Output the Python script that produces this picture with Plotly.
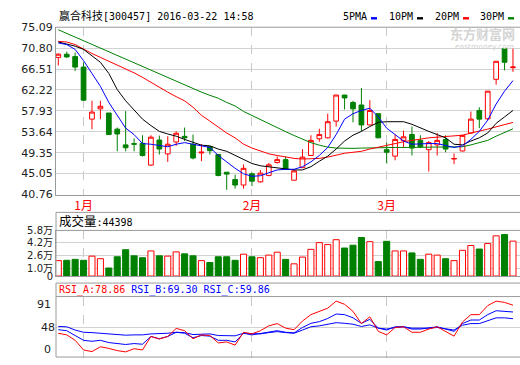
import plotly.graph_objects as go

# ---------------- data ----------------
dates = ["2015-12-29", "2015-12-30", "2015-12-31",
         "2016-01-04", "2016-01-05", "2016-01-06", "2016-01-07", "2016-01-08",
         "2016-01-11", "2016-01-12", "2016-01-13", "2016-01-14", "2016-01-15",
         "2016-01-18", "2016-01-19", "2016-01-20", "2016-01-21", "2016-01-22",
         "2016-01-25", "2016-01-26", "2016-01-27", "2016-01-28", "2016-01-29",
         "2016-02-01", "2016-02-02", "2016-02-03", "2016-02-04", "2016-02-05",
         "2016-02-15", "2016-02-16", "2016-02-17", "2016-02-18", "2016-02-19",
         "2016-02-22", "2016-02-23", "2016-02-24", "2016-02-25", "2016-02-26",
         "2016-02-29",
         "2016-03-01", "2016-03-02", "2016-03-03", "2016-03-04", "2016-03-07",
         "2016-03-08", "2016-03-09", "2016-03-10", "2016-03-11", "2016-03-14",
         "2016-03-15", "2016-03-16", "2016-03-17", "2016-03-18", "2016-03-21",
         "2016-03-22"]

opens = [68.89, 69.55, 69.06, 66.91, 56.23, 58.34, 57.48, 54.18, 50.95, 51.20,
         51.28, 46.80, 51.94, 49.10, 51.54, 52.70, 51.08, 49.30, 50.60, 48.97,
         45.34, 43.83, 42.71, 45.01, 43.37, 44.68, 47.32, 47.92, 43.70, 46.27,
         48.77, 52.20, 52.40, 55.83, 61.17, 59.65, 59.13, 55.04, 57.35, 49.96,
         48.64, 51.87, 53.06, 51.87, 49.96, 50.95, 52.07, 48.05, 49.70, 53.39,
         58.01, 56.30, 64.40, 70.74, 66.80]
highs = [69.75, 70.08, 69.88, 67.90, 59.99, 59.99, 57.50, 54.51, 57.88, 52.27,
         52.93, 52.93, 52.86, 52.73, 53.72, 54.51, 53.06, 51.10, 50.70, 49.00,
         45.34, 44.82, 46.93, 45.27, 45.80, 47.26, 48.58, 48.58, 45.94, 50.09,
         52.93, 54.25, 57.35, 61.20, 61.20, 59.99, 62.63, 60.12, 57.40, 51.41,
         53.06, 53.85, 54.71, 52.93, 51.74, 53.39, 52.93, 49.20, 52.93, 57.80,
         58.67, 62.00, 68.10, 70.80, 70.74]
lows = [67.24, 68.76, 66.12, 60.00, 54.18, 56.23, 53.00, 49.63, 49.63, 49.63,
        48.57, 46.60, 48.97, 47.46, 50.75, 51.74, 47.98, 47.60, 48.97, 44.49,
        41.72, 41.98, 41.98, 42.51, 43.17, 44.49, 47.13, 45.80, 43.70, 46.20,
        48.70, 51.61, 52.27, 54.71, 58.21, 55.57, 53.72, 55.00, 52.30, 47.13,
        47.79, 50.42, 48.77, 50.30, 45.48, 48.77, 49.43, 47.00, 49.60, 53.19,
        54.38, 56.00, 63.29, 66.24, 65.93]
closes = [69.55, 69.00, 66.91, 60.12, 57.68, 58.87, 53.06, 53.19, 50.36, 51.10,
          48.77, 52.53, 50.09, 51.08, 53.33, 52.40, 48.25, 49.45, 49.76, 44.68,
          44.95, 42.71, 46.14, 43.50, 45.15, 46.86, 47.92, 45.94, 45.61, 48.44,
          51.87, 53.06, 55.70, 61.17, 60.58, 58.34, 55.04, 58.01, 52.40, 49.43,
          52.07, 52.60, 50.29, 50.55, 51.41, 51.87, 50.09, 48.15, 52.90, 56.23,
          56.23, 61.97, 68.10, 67.90, 66.92]

ma5 = [71.86, 71.53, 70.54, 68.23, 65.60, 62.96, 59.66, 57.02, 54.38, 53.06,
       51.22, 51.08, 50.75, 50.56, 51.08, 51.41, 51.08, 50.75, 50.42, 48.78,
       47.46, 46.14, 45.02, 44.49, 44.62, 45.15, 45.81, 45.94, 45.94, 46.47,
       47.46, 48.78, 50.42, 53.06, 56.23, 57.35, 58.01, 58.47, 56.69, 54.38,
       53.06, 51.74, 51.08, 51.22, 51.22, 51.22, 50.75, 50.42, 50.75, 52.07,
       53.72, 56.03, 59.33, 61.97, 64.14]
ma10 = [72.06, 71.66, 71.20, 70.54, 69.22, 67.90, 65.60, 62.30, 59.99, 58.01,
        56.23, 54.91, 53.72, 53.19, 52.73, 52.07, 51.41, 50.89, 50.75, 50.09,
        49.63, 48.78, 47.92, 47.13, 46.66, 46.47, 46.27, 46.14, 45.81, 45.81,
        46.47, 47.59, 48.64, 50.09, 51.74, 52.93, 53.72, 54.71, 55.57, 55.70,
        55.70, 55.70, 55.17, 54.38, 53.72, 53.06, 52.40, 51.08, 50.95, 51.74,
        52.40, 53.39, 55.37, 56.69, 58.01]
ma20 = [72.18, 72.06, 71.53, 70.54, 69.69, 68.90, 68.10, 67.31, 66.58, 65.73,
        64.80, 63.75, 62.76, 61.77, 60.84, 59.99, 58.67, 57.02, 55.83, 54.57,
        53.38, 52.39, 51.09, 50.30, 49.63, 49.11, 48.77, 48.44, 48.18, 48.04,
        48.12, 48.18, 48.44, 48.83, 49.23, 49.43, 49.63, 50.10, 50.42, 50.75,
        51.21, 51.60, 51.88, 52.08, 52.39, 52.53, 52.67, 52.67, 52.93, 53.38,
        53.72, 54.18, 54.65, 55.10, 55.56]
ma30 = [74.57, 73.81, 73.06, 72.29, 71.57, 70.81, 70.05, 69.29, 68.53, 67.78,
        67.01, 66.25, 65.53, 64.80, 64.01, 63.29, 62.49, 61.77, 61.11, 60.52,
        59.66, 58.93, 57.81, 56.95, 56.16, 55.37, 54.45, 53.66, 52.87, 52.07,
        51.41, 50.89, 50.49, 50.29, 50.23, 50.23, 50.29, 50.36, 50.36, 50.42,
        50.42, 50.42, 50.42, 50.42, 50.42, 50.49, 50.49, 50.49, 50.56, 50.95,
        51.35, 51.87, 52.73, 53.52, 54.25]

volumes = [19600, 20000, 21200, 20000, 25300, 22000, 10200, 24500, 33500, 25700,
           23300, 31900, 25700, 25300, 30700, 28200, 25700, 19600, 17200, 24500,
           24500, 20000, 27800, 24500, 23300, 26600, 30300, 21200, 15500, 24100,
           33900, 42500, 40000, 46200, 35600, 39200, 49000, 43700, 18400, 44100,
           31900, 31900, 29400, 21200, 27800, 26600, 22000, 19600, 32700, 38800,
           34300, 41300, 51100, 52700, 44398]

rsi_a = [39.4, 37.1, 29.5, 15.9, 13.6, 20.4, 18.1, 15.0, 13.2, 17.7,
         15.9, 34.9, 31.3, 34.9, 46.2, 43.0, 31.7, 37.1, 36.2, 25.8,
         27.2, 22.7, 40.8, 38.5, 43.0, 49.8, 53.0, 46.6, 44.4, 56.6,
         65.6, 70.2, 74.7, 84.6, 80.1, 70.2, 53.0, 62.5, 42.1, 37.1,
         47.5, 48.5, 40.8, 40.8, 45.3, 48.5, 42.1, 35.3, 55.2, 65.6,
         65.6, 78.3, 84.6, 82.8, 78.86]
rsi_b = [44.4, 43.0, 36.2, 29.5, 28.1, 29.5, 26.3, 24.9, 23.6, 24.9,
         24.0, 34.9, 31.7, 34.9, 40.8, 39.4, 33.1, 36.2, 35.3, 29.5,
         29.5, 27.2, 39.4, 37.1, 39.4, 41.7, 43.0, 40.8, 39.9, 47.5,
         53.4, 55.7, 60.2, 66.5, 65.6, 61.1, 53.4, 58.9, 46.6, 43.9,
         48.5, 48.5, 45.3, 45.3, 46.6, 48.5, 45.3, 42.1, 53.0, 58.0,
         58.0, 65.6, 71.1, 70.2, 69.30]
rsi_c = [48.9, 48.5, 43.9, 40.8, 40.3, 39.4, 38.5, 37.1, 36.7, 37.1,
         37.1, 38.5, 38.5, 39.4, 40.8, 40.3, 37.6, 38.5, 38.5, 36.2,
         36.2, 35.8, 39.4, 38.5, 38.5, 40.3, 41.7, 40.3, 39.4, 43.9,
         48.5, 49.8, 52.1, 54.3, 53.4, 52.1, 48.9, 51.2, 46.6, 45.3,
         47.5, 48.5, 46.6, 46.2, 46.6, 47.5, 46.2, 43.9, 50.7, 53.0,
         53.0, 56.6, 61.1, 61.1, 59.86]

price_ticks = [40.76, 45.05, 49.35, 53.64, 57.93, 62.22, 66.51, 70.80, 75.09]
vol_ticks = [0, 10000, 26000, 42000, 58000]
vol_tick_labels = ["0", "1.0万", "2.6万", "4.2万", "5.8万"]
rsi_ticks = [48]

title_name = "赢合科技"
title_rest = "[300457] 2016-03-22 14:58"

# ---------------- layout helpers ----------------
W, H = 520, 365
def px(x):
    return x / W
def py(y):
    return 1 - y / H

RED = "#ff0000"
GREEN = "#008000"
BLUE = "#0000ff"
GRID = "#d2d2d2"
BORDER = "#9a9a9a"
TXT = "#222222"
NUM_FONT = "DejaVu Sans, Noto Sans CJK SC"
MONO = "DejaVu Sans Mono, Noto Sans CJK SC"

x = list(range(len(dates)))
x0, step = 58.3, 8.42
x_range = [(56 - x0) / step, (W - x0) / step]

month_pos, month_txt = [], []
for i, d in enumerate(dates):
    if i > 0 and d[5:7] != dates[i - 1][5:7]:
        month_pos.append(i)
        month_txt.append(str(int(d[5:7])) + "月")

up = [c >= o for o, c in zip(opens, closes)]
vol_fill = ["white" if u else GREEN for u in up]
vol_line = [RED if u else GREEN for u in up]

fig = go.Figure()

fig.add_trace(go.Candlestick(
    x=x, open=opens, high=highs, low=lows, close=closes,
    increasing=dict(line=dict(color=RED, width=1), fillcolor="white"),
    decreasing=dict(line=dict(color=GREEN, width=1), fillcolor=GREEN),
    whiskerwidth=0, xaxis="x", yaxis="y", showlegend=False, hoverinfo="skip"))

for ma, col in [(ma30, GREEN), (ma20, RED), (ma10, "#000000"), (ma5, BLUE)]:
    fig.add_trace(go.Scatter(x=x, y=ma, mode="lines", line=dict(color=col, width=1),
                             xaxis="x", yaxis="y", showlegend=False, hoverinfo="skip"))

fig.add_trace(go.Bar(x=x, y=volumes, width=0.72,
                     marker=dict(color=vol_fill, line=dict(color=vol_line, width=1)),
                     xaxis="x2", yaxis="y2", showlegend=False, hoverinfo="skip"))

for r, col in [(rsi_c, BLUE), (rsi_b, BLUE), (rsi_a, RED)]:
    fig.add_trace(go.Scatter(x=x, y=r, mode="lines", line=dict(color=col, width=1),
                             xaxis="x3", yaxis="y3", showlegend=False, hoverinfo="skip"))

xcommon = dict(range=x_range, domain=[px(56), 1], showgrid=True, gridcolor="#c8c8c8",
               griddash="dash", gridwidth=1, zeroline=False, tickvals=month_pos,
               ticks="", fixedrange=True, rangeslider=dict(visible=False))

fig.update_layout(
    width=W, height=H, margin=dict(l=0, r=0, t=0, b=0),
    paper_bgcolor="white", plot_bgcolor="white", boxgap=0.2,
    xaxis=dict(**xcommon, anchor="y", ticktext=month_txt, showline=True, linecolor=BORDER,
               tickfont=dict(family="Noto Sans CJK SC", size=12, color=RED)),
    xaxis2=dict(**xcommon, anchor="y2", showticklabels=False, showline=True, linecolor=BORDER),
    xaxis3=dict(**xcommon, anchor="y3", showticklabels=False, showline=False),
    yaxis=dict(domain=[py(195.5), py(22)], range=[price_ticks[0], price_ticks[-1]],
               tickvals=price_ticks, ticktext=["%.2f" % v for v in price_ticks],
               showgrid=True, gridcolor=GRID, zeroline=False, showline=True, linecolor=BORDER,
               ticks="", tickfont=dict(family=NUM_FONT, size=11, color=TXT), fixedrange=True),
    yaxis2=dict(domain=[py(280), py(232.7)], range=[0, 58000], tickvals=vol_ticks,
                ticktext=vol_tick_labels, showgrid=True, gridcolor=GRID, zeroline=False,
                showline=True, linecolor=BORDER, ticks="",
                tickfont=dict(family=NUM_FONT, size=10, color=TXT), fixedrange=True),
    yaxis3=dict(domain=[0, py(301.3)], range=[4.6, 91], tickvals=rsi_ticks,
                ticktext=[str(v) for v in rsi_ticks], showgrid=True, gridcolor=GRID,
                zeroline=False, showline=False, ticks="",
                tickfont=dict(family=NUM_FONT, size=11, color=TXT), fixedrange=True),
)

# panel frames
shapes = []
def hline(y, col=BORDER):
    shapes.append(dict(type="line", xref="paper", yref="paper", x0=px(56), x1=1,
                       y0=py(y), y1=py(y), line=dict(color=col, width=1)))
def vline(y0, y1):
    shapes.append(dict(type="line", xref="paper", yref="paper", x0=px(56), x1=px(56),
                       y0=py(y0), y1=py(y1), line=dict(color=BORDER, width=1)))
hline(22)
hline(214); hline(232.7); vline(214, 280)
hline(287.3); hline(301.3); hline(364); vline(287.3, 364)

# legend colour marks
leg = [("5PMA", 340.7, 371, BLUE), ("10PM", 387, 417, "#000000"),
       ("20PM", 432.7, 463, RED), ("30PM", 478, 508, GREEN)]
annotations = []
for name, tx, mx, col in leg:
    annotations.append(dict(xref="paper", yref="paper", x=px(tx), y=py(10.5), text=name,
                            showarrow=False, xanchor="left", yanchor="middle",
                            font=dict(family=MONO, size=10, color="#000")))
    shapes.append(dict(type="rect", xref="paper", yref="paper", x0=px(mx), x1=px(mx + 6),
                       y0=py(14), y1=py(11.5), fillcolor=col, line=dict(width=0)))

annotations.append(dict(xref="paper", yref="paper", x=px(56.5), y=py(10.5),
                        text='<span style="font-size:11px">' + title_name + '</span>' + title_rest,
                        showarrow=False, xanchor="left", yanchor="middle",
                        font=dict(family=MONO, size=10, color="#000")))
annotations.append(dict(xref="paper", yref="paper", x=px(57), y=py(223.3),
                        text='<span style="font-size:12.5px">成交量</span>:' + str(volumes[-1]),
                        showarrow=False, xanchor="left", yanchor="middle",
                        font=dict(family=MONO, size=10, color="#000")))
annotations.append(dict(xref="paper", yref="paper", x=px(56.5), y=py(294),
                        text=('<span style="color:%s">RSI_A:%.2f</span> '
                              '<span style="color:%s">RSI_B:%.2f</span> '
                              '<span style="color:%s">RSI_C:%.2f</span>')
                        % (RED, rsi_a[-1], BLUE, rsi_b[-1], BLUE, rsi_c[-1]),
                        showarrow=False, xanchor="left", yanchor="middle",
                        font=dict(family=MONO, size=10, color=BLUE)))
# RSI panel top / bottom labels
for lab, yy in [("91", 310), ("0", 355.7)]:
    annotations.append(dict(xref="paper", yref="paper", x=px(52.5), y=py(yy), text=lab,
                            showarrow=False, xanchor="right", yanchor="middle",
                            font=dict(family=NUM_FONT, size=11, color=TXT)))
# watermark
annotations.append(dict(xref="paper", yref="paper", x=px(517), y=py(28.5), text="<b>东方财富网</b>",
                        showarrow=False, xanchor="right", yanchor="middle",
                        font=dict(family="Noto Sans CJK SC", size=13, color="#d4d4d4")))
annotations.append(dict(xref="paper", yref="paper", x=px(516), y=py(42.5), text="eastmoney.com",
                        showarrow=False, xanchor="right", yanchor="middle",
                        font=dict(family="DejaVu Sans", size=7.5, color="#d4d4d4")))

fig.update_layout(shapes=shapes, annotations=annotations)
fig.write_html("out.html", config={"displayModeBar": False},
               post_script="document.body.style.margin='0px';document.body.style.overflow='hidden';")
